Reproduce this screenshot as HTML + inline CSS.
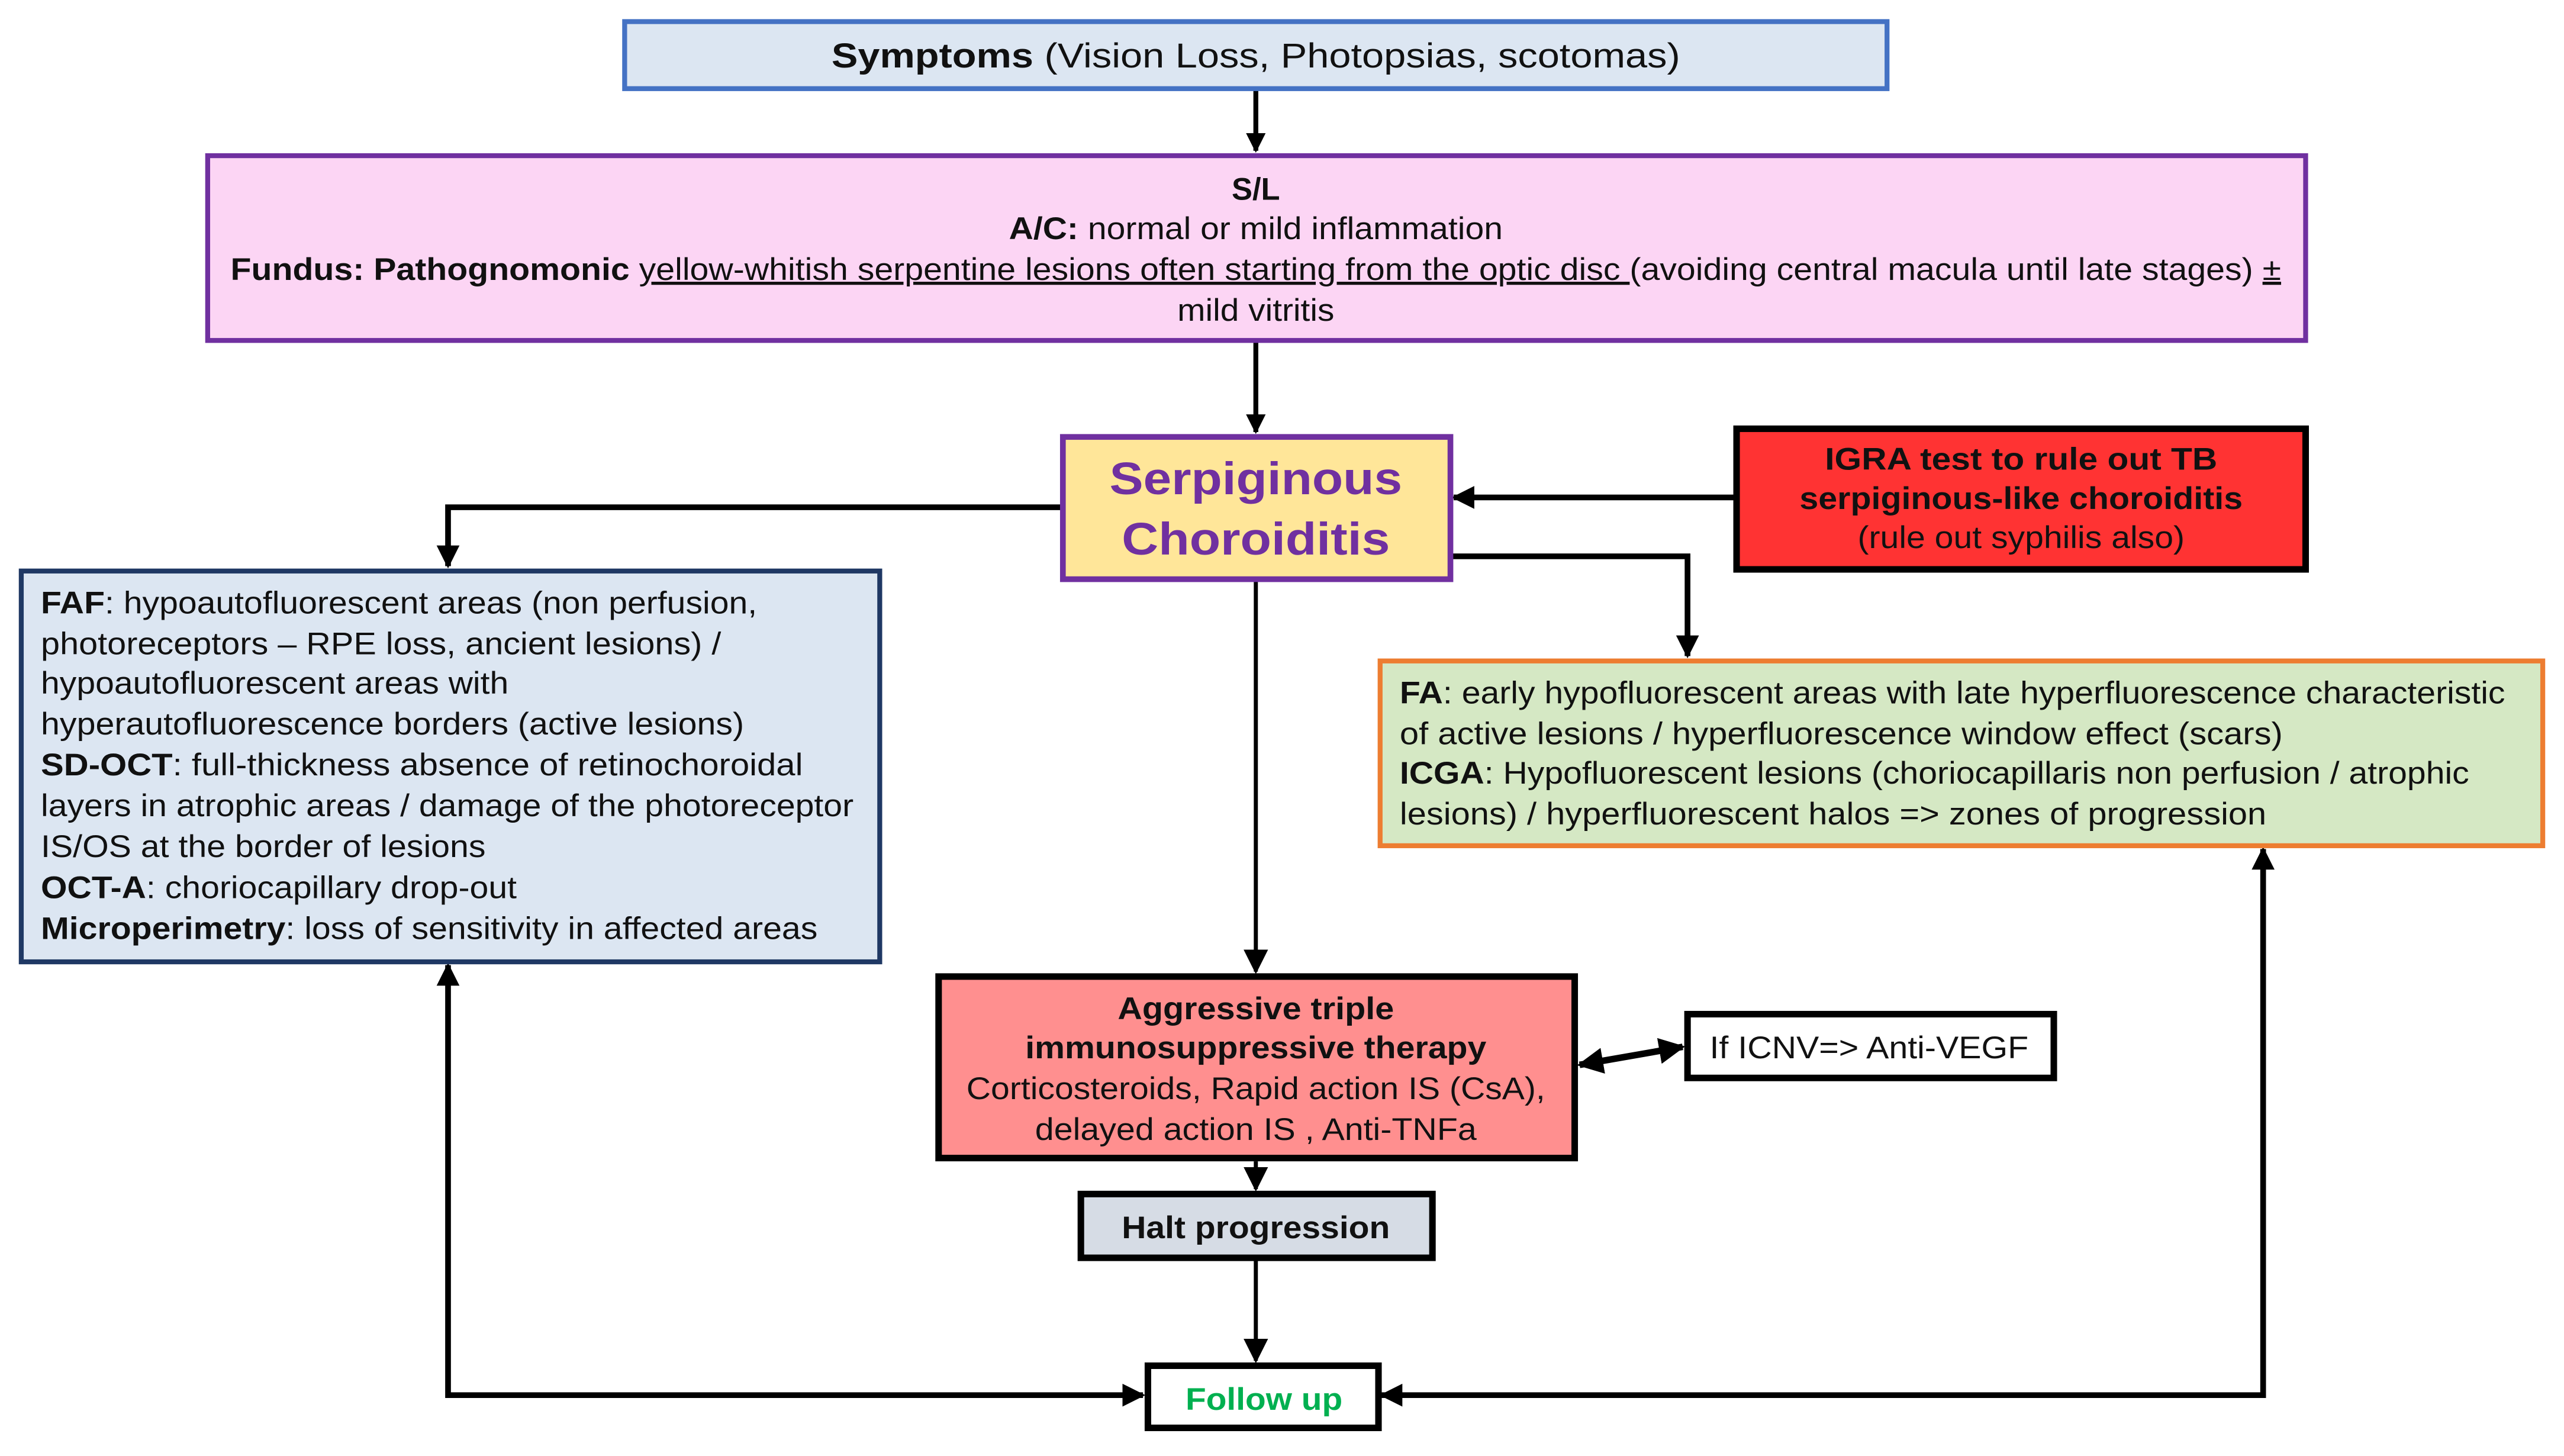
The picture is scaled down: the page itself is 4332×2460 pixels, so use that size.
<!DOCTYPE html>
<html><head><meta charset="utf-8"><style>
html,body{margin:0;padding:0;background:#fff;}
svg{display:block;}
text{font-family:"Liberation Sans",Arimo,Arial,Helvetica,sans-serif;fill:#111;}
.b{font-weight:bold;}
</style></head><body>
<svg width="4332" height="2460" viewBox="0 0 1568 890" xmlns="http://www.w3.org/2000/svg">
<defs>
<marker id="ah" viewBox="0 0 10 10" refX="9" refY="5" markerWidth="4" markerHeight="4" orient="auto-start-reverse" markerUnits="strokeWidth"><path d="M0,0 L10,5 L0,10 z" fill="#000"/></marker>
<marker id="ah2" viewBox="0 0 10 10" refX="9" refY="5" markerWidth="6" markerHeight="6" orient="auto-start-reverse" markerUnits="strokeWidth"><path d="M0,0 L10,5 L0,10 z" fill="#000"/></marker>
</defs>
<g stroke="#000" fill="none">
<line x1="768" y1="55" x2="768" y2="92" stroke-width="3" marker-end="url(#ah)"/>
<line x1="768" y1="209" x2="768" y2="264" stroke-width="3" marker-end="url(#ah)"/>
<polyline points="649,310 274,310 274,346" stroke-width="3.5" marker-end="url(#ah)"/>
<line x1="1061" y1="304" x2="889" y2="304" stroke-width="3.5" marker-end="url(#ah)"/>
<polyline points="888,340 1032,340 1032,401" stroke-width="3.5" marker-end="url(#ah)"/>
<line x1="768" y1="355" x2="768" y2="594" stroke-width="2.5" marker-end="url(#ah2)"/>
<line x1="768" y1="710" x2="768" y2="727" stroke-width="2.5" marker-end="url(#ah2)"/>
<line x1="768" y1="770" x2="768" y2="832" stroke-width="2.5" marker-end="url(#ah2)"/>
<line x1="966" y1="651" x2="1029" y2="640" stroke-width="4" marker-start="url(#ah)" marker-end="url(#ah)"/>
<polyline points="274,590 274,853 699,853" stroke-width="3.5" marker-start="url(#ah)" marker-end="url(#ah)"/>
<polyline points="1384,519 1384,853 845,853" stroke-width="3.5" marker-start="url(#ah)" marker-end="url(#ah)"/>
</g>
<rect x="382" y="13" width="772" height="41" fill="#dce6f2" stroke="#4472c4" stroke-width="3"/>
<text x="768" y="41" text-anchor="middle" font-size="21" textLength="519" lengthAdjust="spacingAndGlyphs"><tspan class="b">Symptoms</tspan> (Vision Loss, Photopsias, scotomas)</text>

<rect x="127" y="95" width="1283" height="113" fill="#fcd5f4" stroke="#7030a0" stroke-width="3"/>
<text x="768" y="122" text-anchor="middle" font-size="19" class="b">S/L</text>
<text x="768" y="146" text-anchor="middle" font-size="19" textLength="302" lengthAdjust="spacingAndGlyphs"><tspan class="b">A/C:</tspan> normal or mild inflammation</text>
<text x="768" y="171" text-anchor="middle" font-size="19" textLength="1254" lengthAdjust="spacingAndGlyphs"><tspan class="b">Fundus: Pathognomonic</tspan> <tspan text-decoration="underline">yellow-whitish serpentine lesions often starting from the optic disc </tspan>(avoiding central macula until late stages) <tspan text-decoration="underline">±</tspan></text>
<text x="768" y="196" text-anchor="middle" font-size="19" textLength="96" lengthAdjust="spacingAndGlyphs">mild vitritis</text>

<rect x="650" y="267" width="237" height="87" fill="#ffe699" stroke="#7030a0" stroke-width="3.5"/>
<text x="768" y="302" text-anchor="middle" font-size="28" class="b" style="fill:#7030a0" textLength="179" lengthAdjust="spacingAndGlyphs">Serpiginous</text>
<text x="768" y="339" text-anchor="middle" font-size="28" class="b" style="fill:#7030a0" textLength="164" lengthAdjust="spacingAndGlyphs">Choroiditis</text>

<rect x="1062" y="262" width="348" height="86" fill="#ff3333" stroke="#000" stroke-width="4"/>
<text x="1236" y="287" text-anchor="middle" font-size="19" class="b" textLength="240" lengthAdjust="spacingAndGlyphs">IGRA test to rule out  TB</text>
<text x="1236" y="311" text-anchor="middle" font-size="19" class="b" textLength="271" lengthAdjust="spacingAndGlyphs">serpiginous-like choroiditis</text>
<text x="1236" y="335" text-anchor="middle" font-size="19" textLength="200" lengthAdjust="spacingAndGlyphs">(rule out syphilis also)</text>

<rect x="13" y="349" width="525" height="239" fill="#dce6f2" stroke="#1f3864" stroke-width="3"/>
<g font-size="19">
<text x="25" y="375" textLength="438" lengthAdjust="spacingAndGlyphs"><tspan class="b">FAF</tspan>: hypoautofluorescent areas (non perfusion,</text>
<text x="25" y="400" textLength="416" lengthAdjust="spacingAndGlyphs">photoreceptors – RPE loss, ancient lesions) /</text>
<text x="25" y="424" textLength="286" lengthAdjust="spacingAndGlyphs">hypoautofluorescent areas with</text>
<text x="25" y="449" textLength="430" lengthAdjust="spacingAndGlyphs">hyperautofluorescence borders (active lesions)</text>
<text x="25" y="474" textLength="466" lengthAdjust="spacingAndGlyphs"><tspan class="b">SD-OCT</tspan>:  full-thickness absence of retinochoroidal</text>
<text x="25" y="499" textLength="497" lengthAdjust="spacingAndGlyphs">layers in atrophic areas / damage of the photoreceptor</text>
<text x="25" y="524" textLength="272" lengthAdjust="spacingAndGlyphs">IS/OS at the border of lesions</text>
<text x="25" y="549" textLength="291" lengthAdjust="spacingAndGlyphs"><tspan class="b">OCT-A</tspan>: choriocapillary drop-out</text>
<text x="25" y="574" textLength="475" lengthAdjust="spacingAndGlyphs"><tspan class="b">Microperimetry</tspan>: loss of sensitivity in affected areas</text>
</g>

<rect x="844" y="404" width="711" height="113" fill="#d5e8c4" stroke="#ed7d31" stroke-width="3"/>
<g font-size="19">
<text x="856" y="430" textLength="676" lengthAdjust="spacingAndGlyphs"><tspan class="b">FA</tspan>: early hypofluorescent areas with late hyperfluorescence characteristic</text>
<text x="856" y="455" textLength="540" lengthAdjust="spacingAndGlyphs">of active lesions /  hyperfluorescence window effect (scars)</text>
<text x="856" y="479" textLength="654" lengthAdjust="spacingAndGlyphs"><tspan class="b">ICGA</tspan>: Hypofluorescent lesions (choriocapillaris non perfusion / atrophic</text>
<text x="856" y="504" textLength="530" lengthAdjust="spacingAndGlyphs">lesions) /  hyperfluorescent halos =&gt; zones of progression</text>
</g>

<rect x="574" y="597" width="389" height="111" fill="#ff8f8f" stroke="#000" stroke-width="4"/>
<text x="768" y="623" text-anchor="middle" font-size="19" class="b" textLength="169" lengthAdjust="spacingAndGlyphs">Aggressive triple</text>
<text x="768" y="647" text-anchor="middle" font-size="19" class="b" textLength="282" lengthAdjust="spacingAndGlyphs">immunosuppressive therapy</text>
<text x="768" y="672" text-anchor="middle" font-size="19" textLength="354" lengthAdjust="spacingAndGlyphs">Corticosteroids, Rapid action IS (CsA),</text>
<text x="768" y="697" text-anchor="middle" font-size="19" textLength="270" lengthAdjust="spacingAndGlyphs">delayed action IS , Anti-TNFa</text>

<rect x="1032" y="620" width="224" height="39" fill="#fff" stroke="#000" stroke-width="4"/>
<text x="1143" y="647" text-anchor="middle" font-size="19" textLength="195" lengthAdjust="spacingAndGlyphs">If ICNV=&gt; Anti-VEGF</text>

<rect x="661" y="730" width="215" height="39" fill="#d6dce5" stroke="#000" stroke-width="4"/>
<text x="768" y="757" text-anchor="middle" font-size="19" class="b" textLength="164" lengthAdjust="spacingAndGlyphs">Halt progression</text>

<rect x="702" y="835" width="141" height="38" fill="#fff" stroke="#000" stroke-width="4"/>
<text x="773" y="862" text-anchor="middle" font-size="19" class="b" style="fill:#00b050" textLength="96" lengthAdjust="spacingAndGlyphs">Follow up</text>
</svg>
</body></html>
